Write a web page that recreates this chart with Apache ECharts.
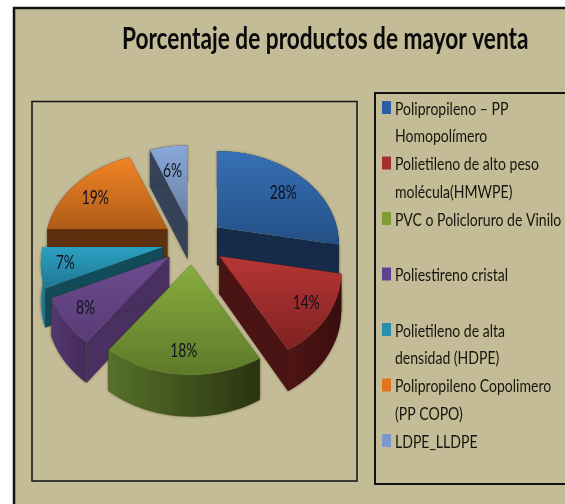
<!DOCTYPE html>
<html>
<head>
  <meta charset="UTF-8">
  <script src="https://cdnjs.cloudflare.com/ajax/libs/echarts/6.0.0/echarts.min.js"></script>
  <style>
    html, body { margin: 0; padding: 0; background: #fff; overflow: hidden; }
    #chart { width: 565px; height: 504px; }
  </style>
</head>
<body>
  <div id="chart"></div>
  <script>
    const titleText = 'Porcentaje de productos de mayor venta';
    const names = [
      'Polipropileno – PP\nHomopolímero',
      'Polietileno de alto peso\nmolécula(HMWPE)',
      'PVC o Policloruro de Vinilo',
      'Poliestireno cristal',
      'Polietileno de alta\ndensidad (HDPE)',
      'Polipropileno Copolimero\n(PP COPO)',
      'LDPE_LLDPE'
    ];
    const values = [28, 14, 18, 8, 7, 19, 6];
    const labels = ['28%', '14%', '18%', '8%', '7%', '19%', '6%'];

    // colours per slice: top face light/dark, radial wall, outer wall left/right
    const topLight = ['#3670b6', '#b83636', '#88ad3e', '#6c4c90', '#2ca0c2', '#f28426', '#88a8da'];
    const topDark = ['#234f84', '#7e2220', '#5e7a2a', '#583c76', '#1f7892', '#ae5c18', '#6a7e9e'];
    const wallColor = ['#162a4a', '#4a1414', '#3f5220', '#4a3060', '#124b5a', '#5e300e', '#354258'];
    const outerLeft = ['#162a4a', '#4f1615', '#56712a', '#54386e', '#2a88a4', '#5e300e', '#354258'];
    const outerRight = ['#162a4a', '#380d0c', '#2a3410', '#44295a', '#1c6a80', '#5e300e', '#354258'];
    const legendColor = ['#2a5fa5', '#a52f2f', '#7d9e35', '#5f4390', '#2890ad', '#e0741f', '#7a98cc'];
    // back to front
    const drawRank = [1, 5, 6, 4, 3, 2, 0];
    const explode = [1, 1.05, 1, 1, 1, 1, 0.9];

    const cx = 193, cy = 242, rx = 120, ry = 90, persp = 0.18;
    const explodeX = 31, explodeY = 23;
    const font = 'Lato, "Open Sans", sans-serif';

    const total = values.reduce((a, b) => a + b, 0);

    function wallDepth(v) {
      return v < 0 ? 37 - 5 * v : 37;
    }
    function rimPoint(apex, a) {
      let u = Math.sin(a), v = Math.cos(a);
      let s = 1 / (1 + persp * v);
      return [apex[0] + rx * u * s, apex[1] - ry * v * s, wallDepth(v)];
    }

    function renderSlice(idx) {
      let before = values.slice(0, idx).reduce((a, b) => a + b, 0);
      let start = before / total * 2 * Math.PI;
      let end = (before + values[idx]) / total * 2 * Math.PI;
      let mid = (start + end) / 2;
      let apex = [cx + explode[idx] * explodeX * Math.sin(mid), cy - explode[idx] * explodeY * Math.cos(mid)];
      let rim = [];
      let n = Math.ceil((end - start) / 0.05);
      for (let i = 0; i <= n; i++) {
        rim.push(rimPoint(apex, start + (end - start) * i / n));
      }
      let topPts = [apex].concat(rim.map(p => [p[0], p[1]]));
      let downApex = [apex[0], apex[1] + 38];
      let down = p => [p[0], p[1] + p[2]];
      let first = rim[0], last = rim[rim.length - 1];
      let shadow = { shadowBlur: 3, shadowColor: 'rgba(40,30,0,0.4)' };
      let children = [
        { type: 'polygon', shape: { points: [apex, [first[0], first[1]], down(first), downApex] },
          style: Object.assign({ fill: wallColor[idx] }, shadow) },
        { type: 'polygon', shape: { points: [apex, [last[0], last[1]], down(last), downApex] },
          style: Object.assign({ fill: wallColor[idx] }, shadow) },
        { type: 'polygon', shape: { points: rim.map(p => [p[0], p[1]]).concat(rim.slice().reverse().map(down)) },
          style: Object.assign({ fill: new echarts.graphic.LinearGradient(0, 0, 1, 0, [
            { offset: 0, color: outerLeft[idx] }, { offset: 1, color: outerRight[idx] }]) }, shadow) },
        { type: 'polygon', shape: { points: topPts },
          style: { fill: new echarts.graphic.LinearGradient(0, 0, 0, 1, [
            { offset: 0, color: topLight[idx] }, { offset: 1, color: topDark[idx] }]) } }
      ];
      // labels sit closer to the apex on the far half of the pie
      let lab = rimPoint(apex, mid);
      let fy = Math.cos(mid) > 0 ? 0.68 : 0.78;
      children.push({ type: 'text', z2: 50,
        x: apex[0] + (lab[0] - apex[0]) * 0.8, y: apex[1] + (lab[1] - apex[1]) * fy, scaleX: 0.69,
        style: { text: labels[idx], x: 0, y: 0, align: 'center', verticalAlign: 'middle',
          fill: '#10101c', font: '20px ' + font } });
      return { type: 'group', children: children };
    }

    // legend rows: the source text is condensed, so it is drawn as scaled graphic text
    let legendItems = [];
    names.forEach((nm, i) => {
      let y = 108 + i * 55.5;
      legendItems.push({ type: 'rect', z: 3, shape: { x: 382, y: y - 7, width: 9, height: 13 },
        style: { fill: legendColor[i] } });
      legendItems.push({ type: 'text', z: 3, x: 395, y: y - 13, scaleX: 0.78,
        style: { text: nm, x: 0, y: 0, fill: '#15150f', font: '18px ' + font, lineHeight: 27.75 } });
    });

    const chart = echarts.init(document.getElementById('chart'), null, { renderer: 'canvas' });
    chart.setOption({
      animation: false,
      backgroundColor: '#ffffff',
      graphic: [
        { type: 'rect', z: -1, shape: { x: 14, y: 8, width: 640, height: 640 },
          style: { fill: '#c4bc96', stroke: '#111', lineWidth: 2.5 } },
        { type: 'rect', z: -1, shape: { x: 32, y: 101.5, width: 325, height: 379.5 },
          style: { fill: 'none', stroke: '#111', lineWidth: 1.5 } },
        { type: 'rect', z: -1, shape: { x: 375, y: 93, width: 240, height: 391 },
          style: { fill: 'none', stroke: '#111', lineWidth: 2 } },
        { type: 'text', z: 3, x: 122, y: 24, scaleX: 0.755,
          style: { text: titleText, x: 0, y: 0, fill: '#0a0a0a', font: 'bold 30px ' + font } }
      ].concat(legendItems),
      series: names.map((nm, i) => ({
        type: 'custom',
        name: nm,
        coordinateSystem: 'none',
        z: 2 + drawRank[i],
        itemStyle: { color: legendColor[i] },
        data: [[values[i]]],
        renderItem: () => renderSlice(i)
      }))
    });
  </script>
</body>
</html>
